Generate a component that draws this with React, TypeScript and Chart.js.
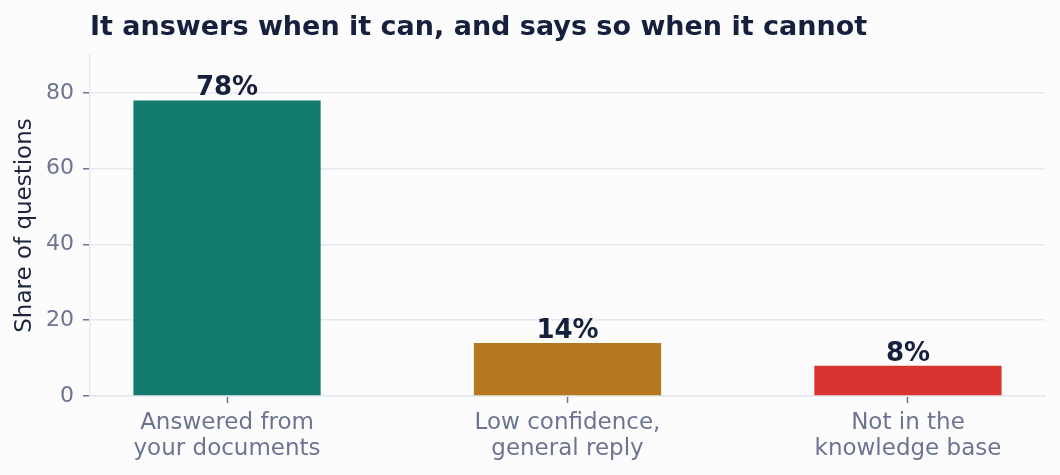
import React, { useEffect, useRef } from "react";
import { Chart, registerables } from "chart.js";

Chart.register(...registerables);

// Outcome categories (each label split into lines for the axis)
const categories: string[][] = [
  ["Answered from", "your documents"],
  ["Low confidence,", "general reply"],
  ["Not in the", "knowledge base"],
];
// Share of questions, in percent
const shares: number[] = [78, 14, 8];
const barColors: string[] = ["#127B6D", "#B5781F", "#D93330"];
const yTicks: number[] = [0, 20, 40, 60, 80];

const TITLE = "It answers when it can, and says so when it cannot";
const Y_TITLE = "Share of questions";
const FONT = "'DejaVu Sans', sans-serif";
const DARK = "#16203D";
const MUTED = "#6B7591";
const RULE = "#E5E8F0";

const annotate = {
  id: "annotate",
  afterDatasetsDraw(chart: any) {
    const { ctx, chartArea } = chart;
    ctx.save();
    // value labels above each bar
    const meta = chart.getDatasetMeta(0);
    ctx.fillStyle = DARK;
    ctx.font = `bold 26px ${FONT}`;
    ctx.textAlign = "center";
    ctx.textBaseline = "alphabetic";
    meta.data.forEach((bar: any, i: number) => {
      ctx.fillText(`${shares[i]}%`, bar.x, bar.y - 5);
    });
    // chart title
    ctx.font = `bold 27px ${FONT}`;
    ctx.textAlign = "left";
    ctx.fillText(TITLE, chartArea.left, 35);
    // y-axis title
    ctx.font = `23px ${FONT}`;
    ctx.fillStyle = "#1B2540";
    ctx.translate(25, (chartArea.top + chartArea.bottom) / 2);
    ctx.rotate(-Math.PI / 2);
    ctx.textAlign = "center";
    ctx.textBaseline = "middle";
    ctx.fillText(Y_TITLE, 0, 0);
    ctx.restore();
  },
};

export default function App() {
  const ref = useRef<HTMLCanvasElement>(null);

  useEffect(() => {
    document.body.style.margin = "0";
    document.body.style.background = "#FCFCFD";
    const chart = new Chart(ref.current!, {
      type: "bar",
      data: {
        datasets: [
          {
            data: shares.map((v, i) => ({ x: i, y: v })),
            backgroundColor: barColors,
            borderWidth: 0,
            barPercentage: 0.55,
            categoryPercentage: 1,
          },
        ],
      },
      options: {
        animation: false,
        responsive: false,
        devicePixelRatio: 1,
        layout: { padding: { top: 55, right: 15, left: 0, bottom: 0 } },
        plugins: {
          legend: { display: false },
          tooltip: { enabled: false },
          title: { display: false },
        },
        scales: {
          x: {
            type: "linear",
            min: -0.4025,
            max: 2.4025,
            offset: false,
            afterBuildTicks: (scale: any) => {
              scale.ticks = categories.map((_, i) => ({ value: i }));
            },
            afterFit: (scale: any) => {
              scale.height = 79;
            },
            grid: {
              offset: false,
              drawOnChartArea: false,
              drawTicks: true,
              tickLength: 7,
              tickColor: MUTED,
              tickWidth: 1.5,
            },
            border: { color: RULE, width: 1.5 },
            ticks: {
              color: MUTED,
              font: { family: FONT, size: 23, lineHeight: 1.13 },
              padding: 7,
              maxRotation: 0,
              autoSkip: false,
              callback: (v: any) => categories[Number(v)] ?? "",
            },
          },
          y: {
            min: 0,
            max: 90,
            afterBuildTicks: (scale: any) => {
              scale.ticks = yTicks.map((v) => ({ value: v }));
            },
            afterFit: (scale: any) => {
              scale.width = 90;
            },
            grid: {
              color: RULE,
              lineWidth: 1.5,
              drawTicks: true,
              tickLength: 7,
              tickColor: MUTED,
              tickWidth: 1.5,
            },
            border: { color: RULE, width: 1.5 },
            ticks: {
              color: MUTED,
              font: { family: FONT, size: 22 },
              padding: 9,
            },
          },
        },
      },
      plugins: [annotate],
    } as any);
    return () => chart.destroy();
  }, []);

  return (
    <div style={{ width: 1060, height: 475, background: "#FCFCFD" }}>
      <canvas ref={ref} width={1060} height={475} />
    </div>
  );
}
